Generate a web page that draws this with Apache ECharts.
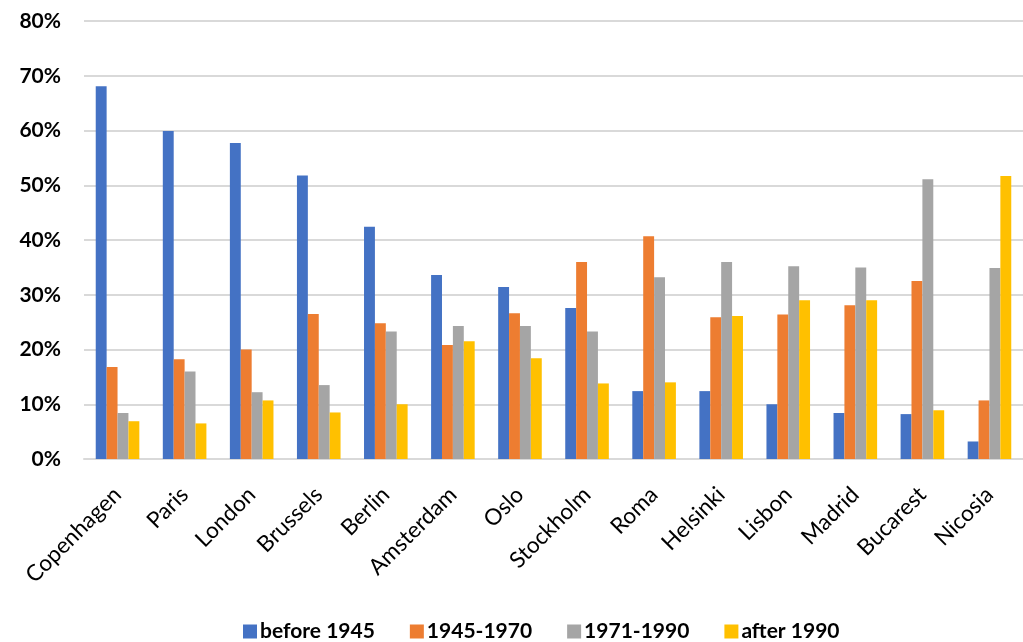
<!DOCTYPE html>
<html>
<head>
<meta charset="utf-8">
<script src="https://cdn.jsdelivr.net/npm/echarts@6/dist/echarts.min.js"></script>
<style>
  html, body { margin: 0; padding: 0; background: #fff; }
  #chart { width: 1023px; height: 642px; }
</style>
</head>
<body>
<div id="chart"></div>
<script>
// Cities and share of dwellings by construction period (%)
const cities = ['Copenhagen', 'Paris', 'London', 'Brussels', 'Berlin', 'Amsterdam', 'Oslo',
  'Stockholm', 'Roma', 'Helsinki', 'Lisbon', 'Madrid', 'Bucarest', 'Nicosia'];
const before1945 = [68.1, 59.9, 57.7, 51.8, 42.4, 33.6, 31.4, 27.6, 12.4, 12.4, 10.0, 8.4, 8.2, 3.2];
const from1945to1970 = [16.8, 18.2, 20.0, 26.5, 24.8, 20.8, 26.6, 36.0, 40.7, 25.9, 26.4, 28.1, 32.5, 10.7];
const from1971to1990 = [8.4, 16.0, 12.2, 13.5, 23.3, 24.3, 24.3, 23.3, 33.2, 36.0, 35.2, 35.0, 51.1, 34.9];
const after1990 = [6.9, 6.5, 10.7, 8.5, 10.0, 21.5, 18.4, 13.8, 14.0, 26.1, 29.0, 29.0, 8.9, 51.7];
const seriesNames = ['before 1945', '1945-1970', '1971-1990', 'after 1990'];
const yTicks = { min: 0, max: 80, step: 10 };

const colors = ['#4472C4', '#ED7D31', '#A5A5A5', '#FFC000'];
const seriesData = [before1945, from1945to1970, from1971to1990, after1990];

const chart = echarts.init(document.getElementById('chart'), null, { renderer: 'canvas' });
chart.setOption({
  animation: false,
  color: colors,
  grid: { left: 84, top: 21, bottom: 183, width: 946, containLabel: false },
  legend: {
    data: seriesNames,
    left: 238,
    bottom: -5,
    itemWidth: 14,
    itemHeight: 14,
    itemGap: 35,
    icon: 'rect',
    textStyle: { fontFamily: 'Lato', fontWeight: 'bold', fontSize: 21, color: '#000', padding: [0, 0, 0, -2] }
  },
  xAxis: {
    type: 'category',
    data: cities,
    axisLine: { lineStyle: { color: '#d9d9d9', width: 2 } },
    axisTick: { show: false },
    axisLabel: {
      rotate: 45,
      margin: 32,
      interval: 0,
      fontFamily: 'Lato',
      fontSize: 22.5,
      color: '#000'
    }
  },
  yAxis: {
    type: 'value',
    min: yTicks.min,
    max: yTicks.max,
    interval: yTicks.step,
    axisLine: { show: false },
    axisTick: { show: false },
    splitLine: { lineStyle: { color: '#d9d9d9', width: 2 } },
    axisLabel: {
      formatter: '{value}%',
      margin: 23,
      fontFamily: 'Lato',
      fontWeight: 'bold',
      fontSize: 21,
      color: '#000'
    }
  },
  series: seriesNames.map((name, i) => ({
    name: name,
    type: 'bar',
    data: seriesData[i],
    barGap: '0%',
    barCategoryGap: '35%'
  }))
});
</script>
</body>
</html>
